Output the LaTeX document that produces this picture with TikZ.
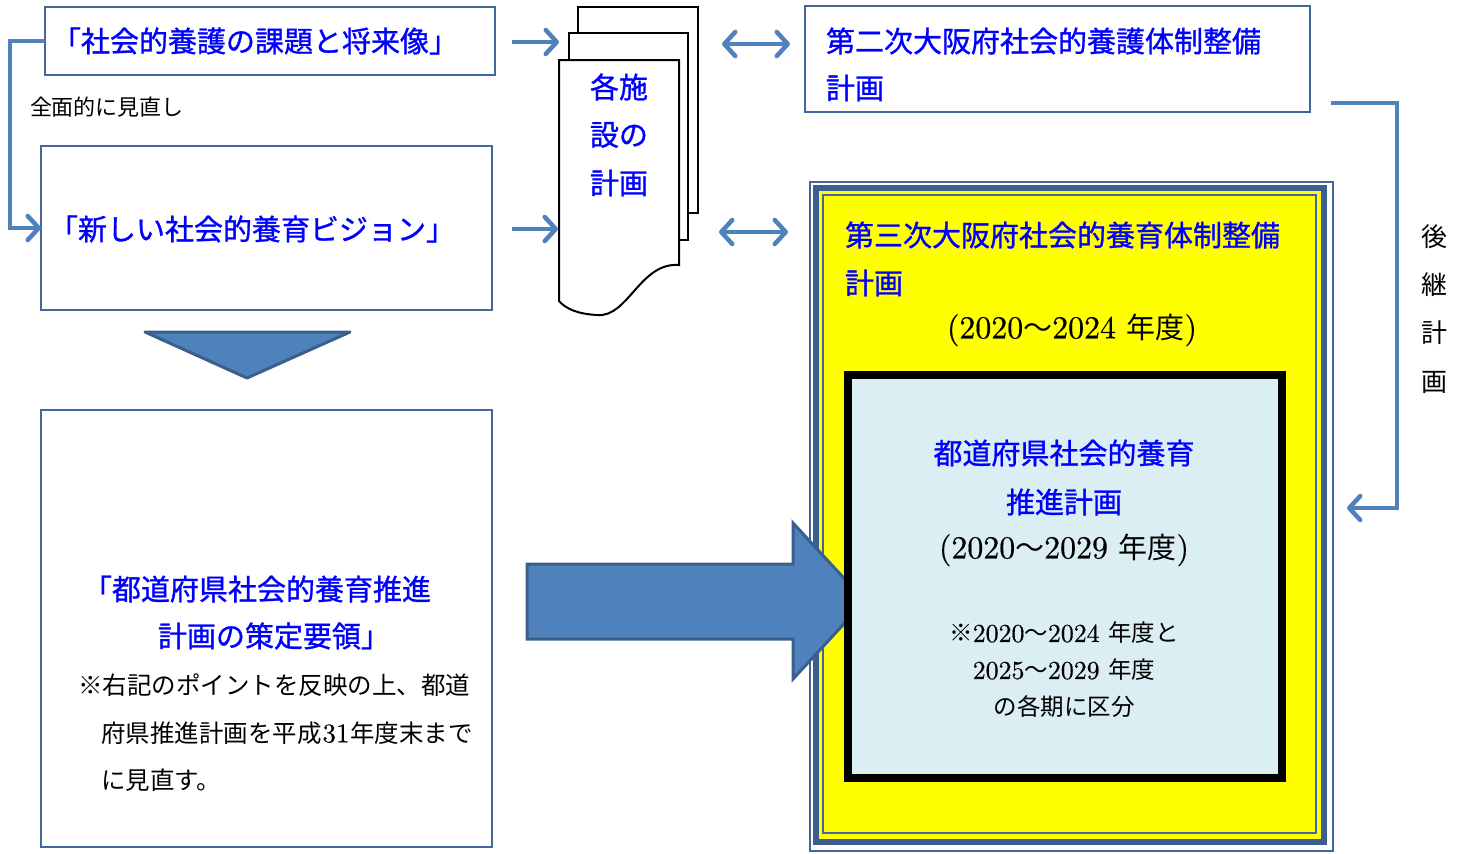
\documentclass[tikz,border=0pt]{standalone}
\usepackage{fontspec}
\usetikzlibrary{arrows.meta,calc}
\newfontfamily\jp{Noto Sans CJK JP}
\newfontfamily\jpb[FakeBold=1]{Noto Sans CJK JP}
\newfontfamily\num[FakeBold=0.5,Scale=1.1]{lmroman10-regular.otf}
\definecolor{txtblue}{HTML}{0000FF}
\definecolor{boxline}{HTML}{41679C}
\definecolor{acc}{HTML}{4F81BD}
\definecolor{accdark}{HTML}{3A5F8B}
\definecolor{band}{HTML}{3B5E8C}
\definecolor{ltblue}{HTML}{DAEEF3}
\definecolor{ylw}{HTML}{FFFF00}
\newcommand\fsz[1]{\fontsize{#1}{#1}\selectfont}
\begin{document}
\begin{tikzpicture}[x=1pt,y=-1pt,
  every node/.style={inner sep=0pt,outer sep=0pt},
  box/.style={draw=boxline,line width=2pt,fill=white},
  btxt/.style={text=txtblue,font=\jpb\fsz{29}},
  ktxt/.style={text=black,font=\jp\fsz{24.5}},
  ytxt/.style={text=black,font=\jp\fsz{29}},
  stxt/.style={text=black,font=\jp\fsz{23.5}},
  conn/.style={draw=acc,line width=4.5pt},
  tipR/.style={-{Straight Barb[length=11pt,width=24pt,round]}},
  tipLR/.style={{Straight Barb[length=11pt,width=24pt,round]}-{Straight Barb[length=11pt,width=24pt,round]}},
  shapeF/.style={fill=acc,draw=accdark,line width=3pt,line join=round},
  page/.style={draw=black,line width=2pt,fill=white}]
\useasboundingbox (0,0) rectangle (1462,854);

% ---- left column boxes
\node[box,minimum width=450pt,minimum height=68pt] (A) at (270,41) {};
\node[btxt] (At) at (255,41) {「社会的養護の課題と将来像」};
\node[font=\jp\fsz{22},anchor=west] (rev) at (30,107) {全面的に見直し};
\node[box,minimum width=451pt,minimum height=164pt] (B) at (266.5,228) {};
\node[btxt] (Bt) at (252,229) {「新しい社会的養育ビジョン」};
\draw[conn,tipR] (A.west) -- ++(-35,0) |- (B.west);

% down triangle
\draw[shapeF] (145,332) -- (350,332) -- (247,378) -- cycle;

\node[box,minimum width=451pt,minimum height=437pt] (C) at (266.5,628.5) {};
\node[btxt,anchor=west] (Ct1) at (83,589) {「都道府県社会的養育推進};
\node[btxt,anchor=west] (Ct2) at (158,636) {計画の策定要領」};
\node[ktxt,anchor=west] (Ck1) at (78,685) {※右記のポイントを反映の上、都道};
\node[ktxt,anchor=west] (Ck2) at (101,733) {府県推進計画を平成\kern1pt{\num 31}\kern1pt 年度末まで};
\node[ktxt,anchor=west] (Ck3) at (101,780) {に見直す。};

% ---- document stack
\node[page,minimum width=120pt,minimum height=206pt] (P3) at (638,110) {};
\node[page,minimum width=119pt,minimum height=207pt] (P2) at (628.5,136.5) {};
\draw[page] (559,60) -- (679,60) -- (679,265)
  .. controls (640,262) and (628,318) .. (597,315)
  .. controls (578,314) and (566,309) .. (559,301) -- cycle;
\coordinate (P1) at (619,180);
\node[btxt,anchor=west] (d1) at (590,87) {各施};
\node[btxt,anchor=west] (d2) at (590,135) {設の};
\node[btxt,anchor=west] (d3) at (590,183) {計画};

\coordinate (sA) at (512,42);
\coordinate (eA) at (559,42);
\coordinate (sB) at (512,229);
\coordinate (eB) at (558,229);
\draw[conn,tipR] (sA) -- (eA);
\draw[conn,tipR] (sB) -- (eB);

\coordinate (dl1) at (722,44);
\coordinate (dr1) at (790,44);
\coordinate (dl2) at (719,232);
\coordinate (dr2) at (788,232);
\draw[conn,tipLR] (dl1) -- (dr1);
\draw[conn,tipLR] (dl2) -- (dr2);

% ---- box D
\node[box,minimum width=505pt,minimum height=106pt] (D) at (1057.5,59) {};
\node[btxt,anchor=west] (Dt1) at (826,41) {第二次大阪府社会的養護体制整備};
\node[btxt,anchor=west] (Dt2) at (826,88) {計画};

% ---- yellow frame
\draw[draw=boxline,line width=1.5pt] (810,182) rectangle (1333,851);
\node[draw=band,line width=6pt,fill=ylw,minimum width=508pt,minimum height=653.5pt] (Y) at (1070,514.75) {};
\draw[draw=boxline,line width=2pt] (823,195) rectangle (1316,833);
\node[btxt,anchor=west] (Yt1) at (845,235) {第三次大阪府社会的養育体制整備};
\node[btxt,anchor=west] (Yt2) at (845,283) {計画};
\node[ytxt] (Yt3) at (1072,330) {{\num(2020}～{\num 2024 }年度{\num)}};

% big arrow
\draw[shapeF,line join=miter] (527,564) -- (793,564) -- (793,523) -- (865,601) -- (793,679) -- (793,639) -- (527,639) -- cycle;

% inner box
\node[draw=black,line width=8pt,fill=ltblue,minimum width=434.5pt,minimum height=402.5pt] (I) at (1064.75,576.25) {};
\node[btxt] (It1) at (1064,453) {都道府県社会的養育};
\node[btxt] (It2) at (1064,502) {推進計画};
\node[ytxt] (It3) at (1064,550) {{\num(2020}～{\num 2029 }年度{\num)}};
\node[stxt] (It4) at (1064,633) {※{\num 2020}～{\num 2024 }年度と};
\node[stxt] (It5) at (1064,670) {{\num 2025}～{\num 2029 }年度};
\node[stxt] (It6) at (1064,707) {の各期に区分};

% ---- right connector
\coordinate (rs) at (1331,103);
\coordinate (re) at (1347,508);
\draw[conn,tipR] (rs) -- (1397,103) |- (re);
\node[font=\jp\fsz{26}] (v1) at (1434,237) {後};
\node[font=\jp\fsz{26}] (v2) at (1434,285) {継};
\node[font=\jp\fsz{26}] (v3) at (1434,333) {計};
\node[font=\jp\fsz{26}] (v4) at (1434,382) {画};
\end{tikzpicture}
\end{document}
